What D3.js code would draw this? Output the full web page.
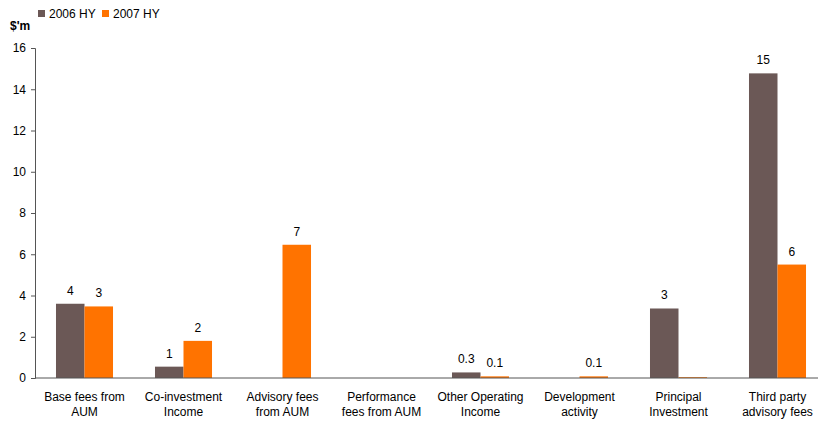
<!DOCTYPE html>
<html><head><meta charset="utf-8">
<script src="https://cdn.jsdelivr.net/npm/d3@7"></script>
<style>body{margin:0;background:#fff}svg{display:block}text{font-family:"Liberation Sans",Arial,sans-serif;fill:#000}</style>
</head><body><svg id="c" width="818" height="423"></svg>
<script>
const categories = [["Base fees from","AUM"],["Co-investment","Income"],["Advisory fees","from AUM"],["Performance","fees from AUM"],["Other Operating","Income"],["Development","activity"],["Principal","Investment"],["Third party","advisory fees"]];
const seriesNames = ["2006 HY","2007 HY"];
const values2006 = [3.6, 0.55, 0, 0, 0.27, 0, 3.37, 14.77];
const values2007 = [3.47, 1.8, 6.46, 0, 0.08, 0.08, 0.04, 5.5];
const labels2006 = ["4","1","","","0.3","","3","15"];
const labels2007 = ["3","2","7","","0.1","0.1","","6"];
const yTicks = [0,2,4,6,8,10,12,14,16];
const colors = ["#6B5856","#FF7300"];

const svg = d3.select("#c");
const y = d3.scaleLinear().domain([0,16]).range([378,48]);
const x = d3.scaleBand().domain(d3.range(categories.length)).range([35,827]).paddingInner(0.424).paddingOuter(0.212);
const x1 = d3.scaleBand().domain([0,1]).range([0,x.bandwidth()]);

const series = [values2006, values2007];
const labs = [labels2006, labels2007];
series.forEach((vals,s)=>{
  svg.append("g").selectAll("rect").data(vals).join("rect")
    .attr("x",(d,i)=>x(i)+x1(s)).attr("width",x1.bandwidth())
    .attr("y",d=>y(d)).attr("height",d=>y(0)-y(d)).attr("fill",colors[s]);
  svg.append("g").selectAll("text").data(vals).join("text")
    .attr("x",(d,i)=>x(i)+x1(s)+x1.bandwidth()/2).attr("y",d=>y(d)-9)
    .attr("text-anchor","middle").attr("font-size","12px")
    .text((d,i)=>labs[s][i]);
});

// y axis
const ya = svg.append("g").attr("transform","translate(35,0)")
  .call(d3.axisLeft(y).tickValues(yTicks).tickSize(4).tickPadding(5).tickFormat(d3.format("d")));
ya.select(".domain").attr("stroke","#555");
ya.selectAll(".tick line").attr("stroke","#555");
ya.selectAll(".tick text").attr("font-size","12px").attr("font-family","Liberation Sans, Arial, sans-serif").attr("fill","#000");

// x axis line
svg.append("line").attr("x1",35).attr("x2",818).attr("y1",y(0)).attr("y2",y(0)).attr("stroke","#555").attr("stroke-width",1);

// x labels
const xl = svg.append("g").selectAll("text").data(categories).join("text")
  .attr("text-anchor","middle").attr("font-size","12px")
  .attr("transform",(d,i)=>`translate(${x(i)+x.bandwidth()/2},0)`);
xl.each(function(d){
  const t=d3.select(this);
  d.forEach((line,k)=>t.append("tspan").attr("x",0).attr("y",401+k*15).text(line));
});

// unit label
svg.append("text").attr("x",10).attr("y",30).attr("font-size","12px").attr("font-weight","bold").text("$'m");

// legend
const lg = svg.append("g");
[[38,49],[102,113]].forEach((p,i)=>{
  lg.append("rect").attr("x",p[0]).attr("y",10).attr("width",7).attr("height",7).attr("fill",colors[i]);
  lg.append("text").attr("x",p[1]).attr("y",18).attr("font-size","12px").text(seriesNames[i]);
});
</script></body></html>
